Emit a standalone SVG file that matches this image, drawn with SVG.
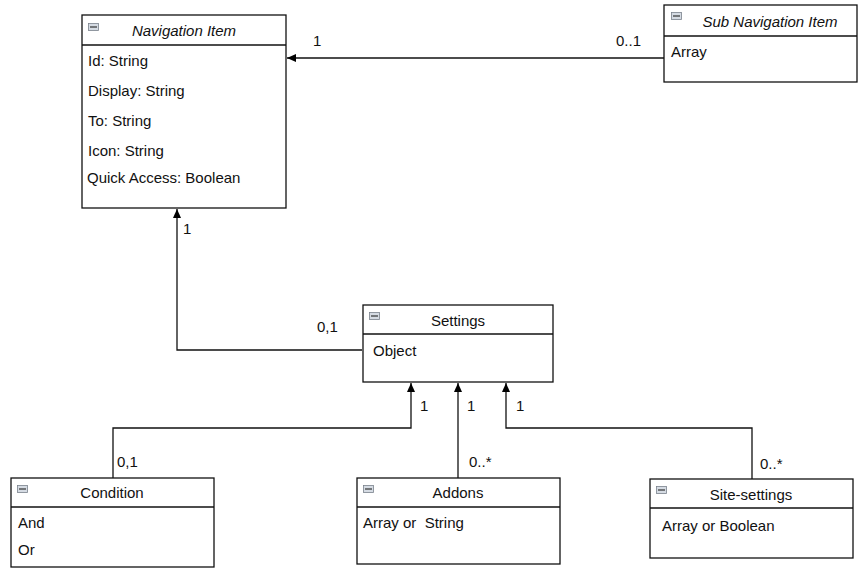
<svg xmlns="http://www.w3.org/2000/svg" width="859" height="574" viewBox="0 0 859 574">
<style>
.box{fill:#fff;stroke:#111;stroke-width:1.3}
.div{stroke:#111;stroke-width:1.3}
.t{font-family:"Liberation Sans",Arial,sans-serif;font-size:15px;fill:#111}
.c{text-anchor:middle}
.i{font-style:italic}
.ico{fill:#d5dbe3;stroke:#7a828c;stroke-width:0.8}
.icl{stroke:#333;stroke-width:1.2}
.con{fill:none;stroke:#111;stroke-width:1.3}
</style>
<defs>
<marker id="ah" markerWidth="10" markerHeight="10" refX="9" refY="5" orient="auto" markerUnits="userSpaceOnUse">
<path d="M0,1 L9,5 L0,9 Z" fill="#000"/>
</marker>
</defs>
<rect width="859" height="574" fill="#fff"/>
<g id="connectors">
<path class="con" d="M664,58 L287,58" marker-end="url(#ah)"/>
<path class="con" d="M362,350 L177,350 L177,209" marker-end="url(#ah)"/>
<path class="con" d="M113,478 L113,428 L411,428 L411,383" marker-end="url(#ah)"/>
<path class="con" d="M458,478 L458,383" marker-end="url(#ah)"/>
<path class="con" d="M752,479 L752,428 L506,428 L506,383" marker-end="url(#ah)"/>
<text class="t" x="313" y="46">1</text>
<text class="t" x="616" y="46">0..1</text>
<text class="t" x="183" y="234">1</text>
<text class="t" x="317" y="332">0,1</text>
<text class="t" x="117" y="467">0,1</text>
<text class="t" x="420" y="411">1</text>
<text class="t" x="467" y="411">1</text>
<text class="t" x="516" y="411">1</text>
<text class="t" x="469" y="467">0..*</text>
<text class="t" x="760" y="469">0..*</text>
</g>
<g id="navigation-item">
<rect class="box" x="82" y="15" width="204" height="193"/>
<line class="div" x1="82" y1="45" x2="286" y2="45"/>
<rect class="ico" x="88.5" y="23.5" width="10" height="7"/><line class="icl" x1="90" y1="27" x2="97" y2="27"/>
<text class="t c i" x="184" y="36">Navigation Item</text>
<text class="t" x="88" y="66">Id: String</text>
<text class="t" x="88" y="96">Display: String</text>
<text class="t" x="88" y="126">To: String</text>
<text class="t" x="88" y="156">Icon: String</text>
<text class="t" x="87" y="183">Quick Access: Boolean</text>
</g>
<g id="sub-navigation-item">
<rect class="box" x="664" y="5" width="193" height="77"/>
<line class="div" x1="664" y1="36" x2="857" y2="36"/>
<rect class="ico" x="671.5" y="12.5" width="10" height="7"/><line class="icl" x1="673" y1="16" x2="680" y2="16"/>
<text class="t c i" x="770" y="27">Sub Navigation Item</text>
<text class="t" x="671" y="57">Array</text>
</g>
<g id="settings">
<rect class="box" x="363" y="305" width="190" height="77"/>
<line class="div" x1="363" y1="334" x2="553" y2="334"/>
<rect class="ico" x="369.5" y="312.5" width="10" height="7"/><line class="icl" x1="371" y1="316" x2="378" y2="316"/>
<text class="t c" x="458" y="326">Settings</text>
<text class="t" x="373" y="356">Object</text>
</g>
<g id="condition">
<rect class="box" x="11" y="478" width="203" height="89"/>
<line class="div" x1="11" y1="507" x2="214" y2="507"/>
<rect class="ico" x="17.5" y="485.5" width="10" height="7"/><line class="icl" x1="19" y1="489" x2="26" y2="489"/>
<text class="t c" x="112" y="498">Condition</text>
<text class="t" x="18" y="528">And</text>
<text class="t" x="18" y="555">Or</text>
</g>
<g id="addons">
<rect class="box" x="357" y="478" width="203" height="86"/>
<line class="div" x1="357" y1="507" x2="560" y2="507"/>
<rect class="ico" x="363.5" y="485.5" width="10" height="7"/><line class="icl" x1="365" y1="489" x2="372" y2="489"/>
<text class="t c" x="458" y="498">Addons</text>
<text class="t" x="363" y="528" xml:space="preserve">Array or  String</text>
</g>
<g id="site-settings">
<rect class="box" x="650" y="479" width="203" height="79"/>
<line class="div" x1="650" y1="508" x2="853" y2="508"/>
<rect class="ico" x="656.5" y="486.5" width="10" height="7"/><line class="icl" x1="658" y1="490" x2="665" y2="490"/>
<text class="t c" x="751" y="500">Site-settings</text>
<text class="t" x="662" y="531">Array or Boolean</text>
</g>
</svg>
